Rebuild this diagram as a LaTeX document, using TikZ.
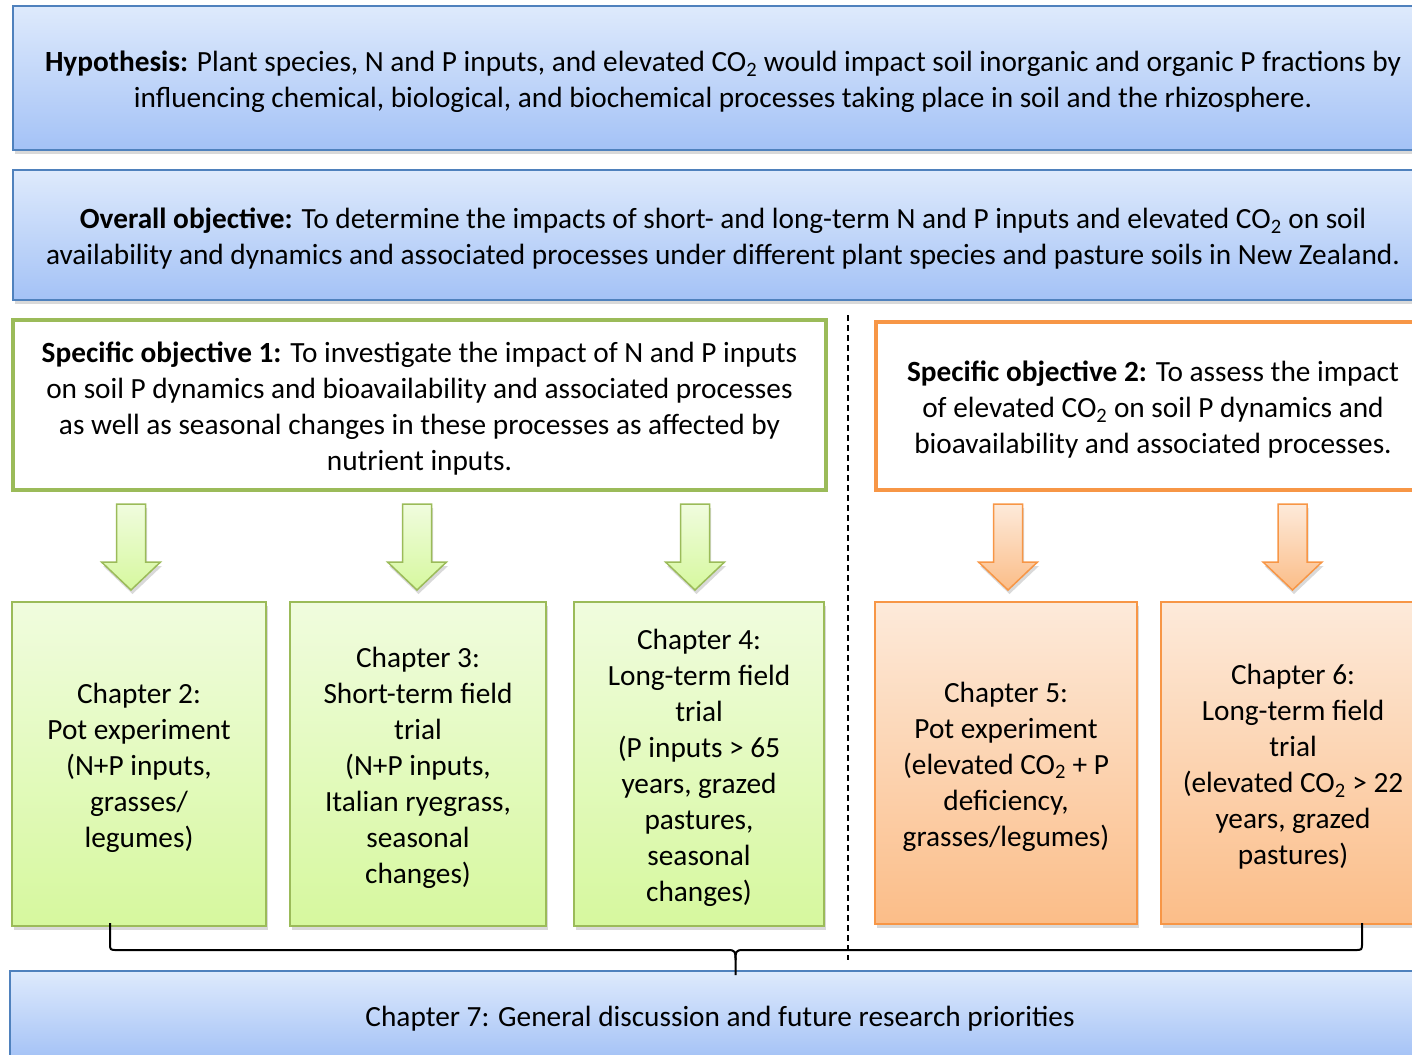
\documentclass[tikz,border=0pt]{standalone}
\usepackage{fontspec}
\setmainfont{Carlito}
\usetikzlibrary{shadows}
\definecolor{bluebd}{RGB}{79,129,189}
\definecolor{bluetop}{RGB}{222,234,252}
\definecolor{bluebot}{RGB}{164,194,246}
\definecolor{greenbd}{RGB}{155,187,89}
\definecolor{greentop}{RGB}{240,252,222}
\definecolor{greenbot}{RGB}{214,248,158}
\definecolor{orangebd}{RGB}{247,150,70}
\definecolor{orangetop}{RGB}{253,234,218}
\definecolor{orangebot}{RGB}{251,189,136}
\newcommand\blkarrow[2]{%
  \path[#2] (#1-14.5,504) -- (#1+14.5,504) -- (#1+14.5,562) -- (#1+29.5,562)
    -- (#1,590) -- (#1-29.5,562) -- (#1-14.5,562) -- cycle;}
\begin{document}
\begin{tikzpicture}[x=1pt,y=-1pt,
  every node/.style={font=\fontsize{29.3}{36}\selectfont, align=center, inner sep=0pt},
  softshadow/.style={drop shadow={opacity=0.3, shadow xshift=1.5pt, shadow yshift=-4pt}},
  bluebox/.style={draw=bluebd, line width=2pt, top color=bluetop, bottom color=bluebot, softshadow},
  objgreen/.style={draw=greenbd, line width=4.5pt, fill=white},
  objorange/.style={draw=orangebd, line width=4.5pt, fill=white},
  chgreen/.style={draw=greenbd, line width=2pt, top color=greentop, bottom color=greenbot, softshadow},
  chorange/.style={draw=orangebd, line width=2pt, top color=orangetop, bottom color=orangebot, softshadow},
  arrgreen/.style={draw=greenbd, line width=1.5pt, top color=greentop, bottom color=greenbot, softshadow},
  arrorange/.style={draw=orangebd, line width=1.5pt, top color=orangetop, bottom color=orangebot, softshadow},
  brace/.style={draw=black, line width=2pt},
  divider/.style={draw=black, line width=1.5pt, dash pattern=on 6pt off 4pt}]
\useasboundingbox (0,0) rectangle (1412,1054);
\clip (0,0) rectangle (1412,1054);

\node[bluebox, minimum width=1420, minimum height=144] (hyp) at (723,78) {};
\node (hyptxt) at ([yshift=-3.5pt]hyp.center)
  {\textbf{Hypothesis:} Plant species, N and P inputs, and elevated CO\textsubscript{2} would impact soil inorganic and organic P fractions by\\
   influencing chemical, biological, and biochemical processes taking place in soil and the rhizosphere.};

\node[bluebox, minimum width=1420, minimum height=130] (obj) at (723,235) {};
\node (objtxt) at ([yshift=-3.5pt]obj.center)
  {\textbf{Overall objective:} To determine the impacts of short- and long-term N and P inputs and elevated CO\textsubscript{2} on soil\\
   availability and dynamics and associated processes under different plant species and pasture soils in New Zealand.};

\node[objgreen, minimum width=813, minimum height=170] (so1) at (419.5,405) {};
\node (so1txt) at ([yshift=-3.5pt]so1.center)
  {\textbf{Specific objective 1:} To investigate the impact of N and P inputs\\
   on soil P dynamics and bioavailability and associated processes\\
   as well as seasonal changes in these processes as affected by\\
   nutrient inputs.};

\node[objorange, minimum width=554, minimum height=168] (so2) at (1153,406) {};
\node (so2txt) at ([yshift=-3.5pt]so2.center)
  {\textbf{Specific objective 2:} To assess the impact\\
   of elevated CO\textsubscript{2} on soil P dynamics and\\
   bioavailability and associated processes.};

\coordinate (divtop) at (848,315);
\coordinate (divbot) at (848,960);
\path[divider] (divtop) -- (divbot);

\blkarrow{131}{arrgreen}
\blkarrow{417}{arrgreen}
\blkarrow{695}{arrgreen}
\blkarrow{1008}{arrorange}
\blkarrow{1292.5}{arrorange}

\node[chgreen, minimum width=254, minimum height=324] (ch2) at (139,764) {};
\node (ch2txt) at ([yshift=-3.5pt]ch2.center)
  {Chapter 2:\\Pot experiment\\(N+P inputs,\\grasses/\\legumes)};
\node[chgreen, minimum width=256, minimum height=324] (ch3) at (418,764) {};
\node (ch3txt) at ([yshift=-3.5pt]ch3.center)
  {Chapter 3:\\Short-term field\\trial\\(N+P inputs,\\Italian ryegrass,\\seasonal\\changes)};
\node[chgreen, minimum width=250, minimum height=324] (ch4) at (699,764) {};
\node (ch4txt) at ([yshift=-3.5pt]ch4.center)
  {Chapter 4:\\Long-term field\\trial\\(P inputs > 65\\years, grazed\\pastures,\\seasonal\\changes)};
\node[chorange, minimum width=262, minimum height=322] (ch5) at (1006,763) {};
\node (ch5txt) at ([yshift=-3.5pt]ch5.center)
  {Chapter 5:\\Pot experiment\\(elevated CO\textsubscript{2} + P\\deficiency,\\grasses/legumes)};
\node[chorange, minimum width=264, minimum height=322] (ch6) at (1293,763) {};
\node (ch6txt) at ([yshift=-3.5pt]ch6.center)
  {Chapter 6:\\Long-term field\\trial\\(elevated CO\textsubscript{2} > 22\\years, grazed\\pastures)};

\node[bluebox, minimum width=1420, minimum height=88] (ch7) at (720,1015) {};
\node (ch7txt) at ([yshift=-3.5pt]ch7.center)
  {Chapter 7: General discussion and future research priorities};

\coordinate (bl) at (110,923);
\coordinate (br) at (1362,923);
\coordinate (bm) at (735.5,975);
\path[brace] (bl) -- (110,943) .. controls (110,950) .. (117,950) -- (728,950)
  .. controls (735.5,950) and (735.5,952) .. (735.5,960) -- (bm);
\path[brace] (735.5,960) .. controls (735.5,952) and (735.5,950) .. (743,950)
  -- (1355,950) .. controls (1362,950) .. (1362,943) -- (br);
\end{tikzpicture}
\end{document}
